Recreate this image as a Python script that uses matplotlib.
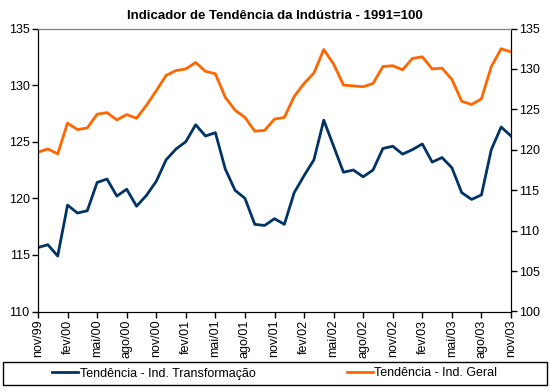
import matplotlib.pyplot as plt
import numpy as np

plt.rcParams['font.family'] = ['Liberation Sans', 'DejaVu Sans']

# monthly index nov/99 .. nov/03
meses = np.arange(49)

# Tendência - Ind. Transformação (left axis)
transformacao = [115.65, 115.9, 114.9, 119.4, 118.7, 118.9, 121.4, 121.7, 120.2, 120.8,
                 119.3, 120.25, 121.5, 123.4, 124.35, 125.0, 126.5, 125.5, 125.8, 122.6,
                 120.7, 120.0, 117.7, 117.6, 118.2, 117.7, 120.5, 122.0, 123.4, 126.9,
                 124.6, 122.3, 122.5, 121.9, 122.5, 124.4, 124.6, 123.9, 124.3, 124.8,
                 123.2, 123.6, 122.7, 120.5, 119.9, 120.3, 124.3, 126.3, 125.5]

# Tendência - Ind. Geral (right axis)
geral = [119.7, 120.1, 119.5, 123.3, 122.5, 122.7, 124.4, 124.6, 123.7, 124.35,
         123.9, 125.5, 127.3, 129.2, 129.8, 130.0, 130.8, 129.7, 129.4, 126.5,
         124.9, 124.0, 122.3, 122.4, 123.8, 124.0, 126.6, 128.2, 129.5, 132.4,
         130.6, 128.0, 127.9, 127.8, 128.2, 130.3, 130.4, 129.9, 131.3, 131.5,
         130.0, 130.1, 128.7, 126.0, 125.6, 126.3, 130.3, 132.5, 132.1]

tick_meses = np.arange(0, 49, 3)
tick_labels = ['nov/99', 'fev/00', 'mai/00', 'ago/00', 'nov/00', 'fev/01', 'mai/01',
               'ago/01', 'nov/01', 'fev/02', 'mai/02', 'ago/02', 'nov/02', 'fev/03',
               'mai/03', 'ago/03', 'nov/03']

fig = plt.figure(figsize=(5.5, 3.91), dpi=100)
ax1 = fig.add_axes([38/550, 1-311.5/391, (511-38)/550, (311.5-28.5)/391])
ax2 = ax1.twinx()

l1, = ax1.plot(meses, transformacao, color='#003366', lw=2, label='Tendência - Ind. Transformação')
l2, = ax2.plot(meses, geral, color='#FF6600', lw=2, label='Tendência - Ind. Geral')

ax1.set_xlim(0, 48)
ax1.set_ylim(110, 135)
ax2.set_ylim(100, 135)
ax1.set_yticks(np.arange(110, 136, 5))
ax2.set_yticks(np.arange(100, 136, 5))
ax1.set_xticks(tick_meses)
ax1.set_xticklabels(tick_labels, rotation=90)

for ax in (ax1, ax2):
    ax.tick_params(direction='out', length=4, width=1, labelsize=9, pad=2)
    ax.spines['top'].set_color('#808080')
    for s in ('left', 'right', 'bottom'):
        ax.spines[s].set_color('black')

fig.text((38+511)/2/550, 1-16/391, 'Indicador de Tendência da Indústria - 1991=100',
         ha='center', va='center', fontsize=9.5, fontweight='bold')

# legend box along the bottom
fig.add_artist(plt.Rectangle((3/550, 6/391), 544/550, 23/391, transform=fig.transFigure,
                             fill=False, edgecolor='black', lw=1))
fig.legend(handles=[l1, l2], loc='center left', ncol=2, frameon=False,
           bbox_to_anchor=(52/550, 1-373.5/391), borderaxespad=0, borderpad=0,
           fontsize=9, handlelength=2.1, handletextpad=0.12, columnspacing=7.3)

plt.savefig('out.png', dpi=100)
